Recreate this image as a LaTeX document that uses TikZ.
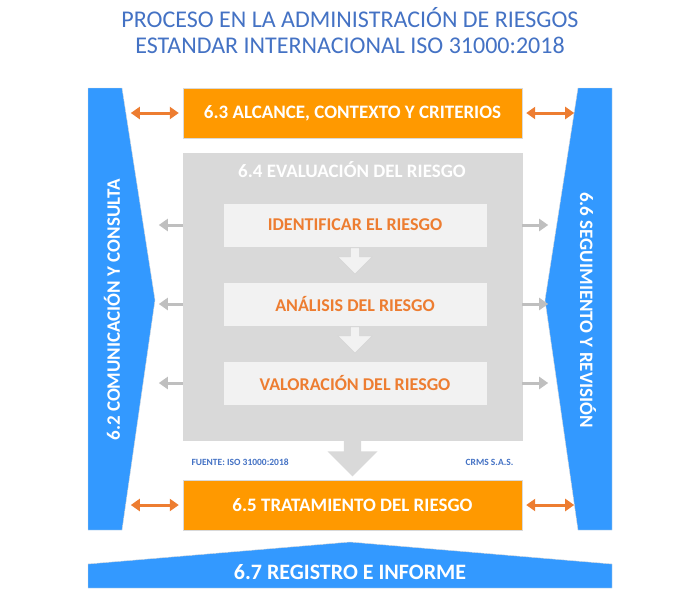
\documentclass[tikz,border=0pt]{standalone}
\usepackage{fontspec}
\setmainfont{Carlito}
\usetikzlibrary{arrows.meta,shapes.arrows}
\definecolor{blueside}{RGB}{51,153,255}
\definecolor{orangebox}{RGB}{255,153,0}
\definecolor{orangearrow}{RGB}{237,125,49}
\definecolor{graybox}{RGB}{217,217,217}
\definecolor{grayarrow}{RGB}{191,191,191}
\definecolor{lightbox}{RGB}{242,242,242}
\definecolor{titleblue}{RGB}{68,114,196}
\definecolor{textorange}{RGB}{237,125,49}
\tikzset{
  boxorange/.style={fill=orangebox, draw=graybox, minimum width=339pt, minimum height=50pt,
    text=white, font=\bfseries\fontsize{19}{19}\selectfont},
  boxstep/.style={fill=lightbox, draw=graybox, minimum width=264pt, minimum height=44pt,
    text=textorange, font=\bfseries\fontsize{18}{18}\selectfont},
  sidelabel/.style={text=white, font=\bfseries\fontsize{19}{19}\selectfont},
  linkarrow/.style={orangearrow, line width=3pt, {Triangle[length=9pt,width=12pt]}-{Triangle[length=9pt,width=12pt]}},
  grayout/.style={grayarrow, line width=3pt, -{Triangle[length=9pt,width=12pt]}},
}
\begin{document}
\begin{tikzpicture}[x=1pt,y=-1pt]
\useasboundingbox (0,0) rectangle (690,590);
% title
\node[text=titleblue, font=\fontsize{24}{24}\selectfont] (title1) at (350,18) {PROCESO EN LA ADMINISTRACIÓN DE RIESGOS};
\node[text=titleblue, font=\fontsize{24}{24}\selectfont] (title2) at (350,45) {ESTANDAR INTERNACIONAL ISO 31000:2018};
% side bars
\fill[blueside, draw=graybox] (88,88) -- (122,88) -- (155,300) -- (122,530) -- (88,530) -- cycle;
\fill[blueside, draw=graybox] (612,88) -- (578,88) -- (545,300) -- (578,530) -- (612,530) -- cycle;
\fill[blueside, draw=graybox] (88,564) -- (350,542) -- (612,564) -- (612,588) -- (88,588) -- cycle;
\node[sidelabel, rotate=90] (comm) at (112,310) {6.2 COMUNICACIÓN Y CONSULTA};
\node[sidelabel, rotate=-90] (segu) at (588,310) {6.6 SEGUIMIENTO Y REVISIÓN};
\node[sidelabel, font=\bfseries\fontsize{22}{22}\selectfont] (regi) at (350,572) {6.7 REGISTRO E INFORME};
% gray evaluation box
\node[fill=graybox, draw=grayarrow!60, minimum width=339pt, minimum height=287pt] (eval) at (352.5,296.5) {};
\node[text=white, font=\bfseries\fontsize{19}{19}\selectfont] (evaltitle) at (352,170) {6.4 EVALUACIÓN DEL RIESGO};
% orange boxes
\node[boxorange] (alca) at (352.5,113) {6.3 ALCANCE, CONTEXTO Y CRITERIOS};
\node[boxorange] (trat) at (352.5,505) {6.5 TRATAMIENTO DEL RIESGO};
% steps
\node[boxstep] (iden) at (355,225) {IDENTIFICAR EL RIESGO};
\node[boxstep] (anal) at (355,304) {ANÁLISIS DEL RIESGO};
\node[boxstep] (valo) at (355,383) {VALORACIÓN DEL RIESGO};
\foreach \a/\b in {iden/anal, anal/valo}
{
\node[single arrow, shape border rotate=270, fill=lightbox, draw=grayarrow!70, minimum height=26pt, minimum width=34pt, single arrow head extend=6pt, inner sep=2pt, anchor=north] at ([yshift=-0.5pt]\a.south) {};
}
\node[single arrow, shape border rotate=270, fill=graybox, minimum height=36pt, minimum width=50pt, single arrow head extend=12pt, inner sep=6pt, anchor=north] (down) at (eval.south) {};
% side arrows
\foreach \n in {alca, trat}
{
\draw[linkarrow] (\n.west) ++(-4,0) coordinate (l\n) -- ++(-48,0);
\draw[linkarrow] (\n.east) ++(4,0) coordinate (r\n) -- ++(48,0);
}
\foreach \n in {iden, anal, valo}
{
\coordinate (gl\n) at (eval.west |- \n);
\coordinate (gr\n) at (eval.east |- \n);
\draw[grayout] (gl\n) -- ++(-24,0);
\draw[grayout] (gr\n) -- ++(26,0);
}
% source notes
\node[text=titleblue, font=\bfseries\fontsize{9.5}{9.5}\selectfont, anchor=west] (fuente) at (188,462) {FUENTE: ISO 31000:2018};
\node[text=titleblue, font=\bfseries\fontsize{9.5}{9.5}\selectfont, anchor=east] (crms) at (517,462) {CRMS S.A.S.};
\end{tikzpicture}
\end{document}
